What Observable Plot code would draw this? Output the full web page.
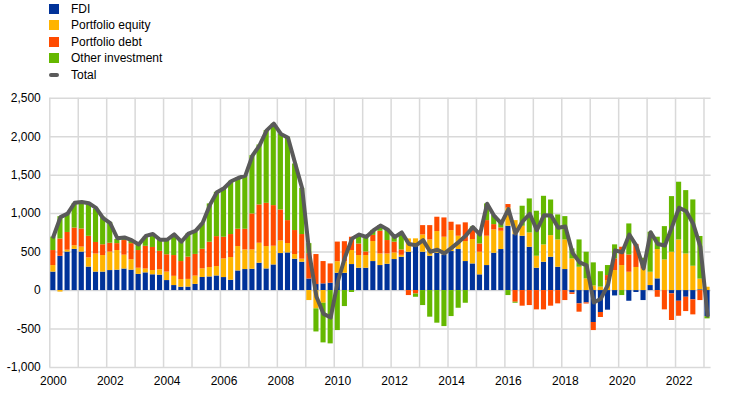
<!DOCTYPE html>
<html>
<head>
<meta charset="utf-8">
<script src="https://cdn.jsdelivr.net/npm/d3@7"></script>
<script src="https://cdn.jsdelivr.net/npm/@observablehq/plot@0.6"></script>
<style>
  body { margin: 0; background: #fff; font-family: Arial, "Liberation Sans", sans-serif; }
  #legend { position: relative; width: 744px; height: 85px; }
  .item { position: absolute; left: 49px; height: 14px; display: flex; align-items: center; font-size: 12px; color: #000; white-space: nowrap; }
  .sw { width: 10px; height: 10px; margin-right: 12px; }
  .ln { width: 10px; height: 4px; border-radius: 2px; margin-right: 12px; }
</style>
</head>
<body>
<div id="legend"></div>
<div id="chart"></div>
<script>
// Quarterly data, 2000 Q1 – 2023 Q1 (EUR billions, four-quarter sums)
const startYear = 2000;
const seriesNames = ["FDI", "Portfolio equity", "Portfolio debt", "Other investment"];
const seriesColors = ["#003299", "#ffb400", "#ff4b00", "#65b800"];
const totalName = "Total";
const totalColor = "#5a5a5a";

const fdi = [240,445,500,535,500,305,240,240,260,265,280,265,210,230,205,200,130,65,43,45,
  80,170,177,190,169,134,255,273,277,355,281,333,481,489,407,368,150,78,87,95,
  225,225,338,290,290,377,325,342,403,433,498,572,498,446,485,463,507,533,377,346,
  204,325,485,533,836,727,706,563,290,368,433,303,273,-30,-173,-160,-415,-285,-255,-70,
  0,-139,-25,-130,65,152,0,-43,-139,-87,-121,10,-338];
const portfolioEquity = [85,-20,25,47,65,120,235,215,240,255,180,135,80,50,55,70,110,120,100,100,
  108,112,122,122,242,295,317,255,251,260,291,243,164,122,61,40,-130,-238,-165,0,
  150,150,182,165,165,260,151,134,86,25,173,100,225,212,282,230,272,173,260,317,
  294,381,303,238,234,182,130,186,156,225,281,355,385,411,303,152,60,45,130,260,
  325,238,300,280,173,381,398,498,658,476,316,139,43];
const portfolioDebt = [195,225,230,230,235,280,150,140,115,90,190,210,230,295,300,240,225,270,234,290,
  282,255,329,389,282,299,225,269,468,498,562,528,403,298,312,320,330,390,290,251,
  255,260,173,150,47,80,295,174,140,70,-65,-45,121,186,186,251,109,147,243,125,
  108,203,69,43,48,-152,-203,-195,-251,-251,-203,-173,-130,-20,-108,-15,-105,-65,65,152,
  238,225,300,60,0,-87,-251,-346,-195,-186,-195,-130,0];
const otherInvestment = [175,290,240,316,330,410,435,360,270,55,20,30,75,120,160,140,180,270,273,300,
  290,330,498,576,636,692,666,697,757,779,944,1061,987,1083,865,600,130,-300,-515,-693,
  -520,-208,-25,120,191,65,74,138,65,225,0,-42,-195,-346,-424,-468,-338,-230,-165,40,
  121,217,118,61,-65,-13,260,442,585,632,463,325,303,130,355,346,300,200,130,182,
  -65,403,0,80,520,160,433,723,750,823,862,554,-30];
const total = [700,955,1000,1140,1150,1135,1075,940,875,680,690,655,598,710,735,660,660,730,635,740,
  775,880,1110,1277,1329,1420,1463,1494,1753,1888,2082,2170,2035,1985,1655,1325,480,-80,-303,-350,
  115,430,675,728,697,781,845,795,695,755,606,588,655,505,530,483,555,630,714,826,
  728,1128,970,872,1058,740,900,998,784,980,976,816,833,493,366,328,-155,-105,75,522,
  498,728,580,287,758,606,585,828,1077,1030,864,568,-325];

const yTicks = [-1000,-500,0,500,1000,1500,2000,2500];
const gridYears = d3.range(2000, 2024);
const labelYears = d3.range(2000, 2023, 2);

// Legend
const legend = document.getElementById("legend");
const rowsY = [8.7, 25.1, 41.6, 58.1, 74.5];
seriesNames.forEach((n, i) => {
  const el = document.createElement("div");
  el.className = "item";
  el.style.top = (rowsY[i] - 7) + "px";
  el.innerHTML = `<span class="sw" style="background:${seriesColors[i]}"></span><span>${n}</span>`;
  legend.appendChild(el);
});
{
  const el = document.createElement("div");
  el.className = "item";
  el.style.top = (rowsY[4] - 7) + "px";
  el.innerHTML = `<span class="ln" style="background:${totalColor}"></span><span>${totalName}</span>`;
  legend.appendChild(el);
}

// Long-format rows for stacked bars
const seriesValues = [fdi, portfolioEquity, portfolioDebt, otherInvestment];
const rows = [];
for (let i = 0; i < fdi.length; i++) {
  seriesNames.forEach((k, j) => rows.push({t: startYear + i / 4, k, v: seriesValues[j][i]}));
}
const lineRows = total.map((v, i) => ({t: startYear + i / 4 + 0.125, v}));
const fmt = d3.format(",");

const chart = Plot.plot({
  width: 744,
  height: 310,
  marginLeft: 49.3,
  marginRight: 33.4,
  marginTop: 12.7,
  marginBottom: 28,
  x: {domain: [2000, 2023.25]},
  y: {domain: [-1000, 2500]},
  color: {domain: seriesNames, range: seriesColors},
  style: {fontFamily: "Arial, 'Liberation Sans', sans-serif", fontSize: "12px", color: "#000", background: "#fff"},
  marks: [
    Plot.gridY(yTicks, {stroke: "#d9d9d9", strokeOpacity: 1, strokeWidth: 1.5}),
    Plot.gridX(gridYears, {stroke: "#d9d9d9", strokeOpacity: 1, strokeWidth: 1.5}),
    Plot.rectY(rows, {x1: "t", x2: d => d.t + 0.25, y: "v", fill: "k", insetLeft: 1, insetRight: 1}),
    Plot.line(lineRows, {x: "t", y: "v", stroke: totalColor, strokeWidth: 4, strokeLinejoin: "round", strokeLinecap: "round"}),
    Plot.axisY(yTicks, {tickSize: 0, tickPadding: 9, tickFormat: d => fmt(d).replace("\u2212", "-"), label: null, fill: "#000"}),
    Plot.axisX(labelYears.map(y => y + 0.125), {tickSize: 0, tickPadding: 9, tickFormat: d => String(Math.floor(d)), label: null, fill: "#000"})
  ]
});
document.getElementById("chart").appendChild(chart);
</script>
</body>
</html>
